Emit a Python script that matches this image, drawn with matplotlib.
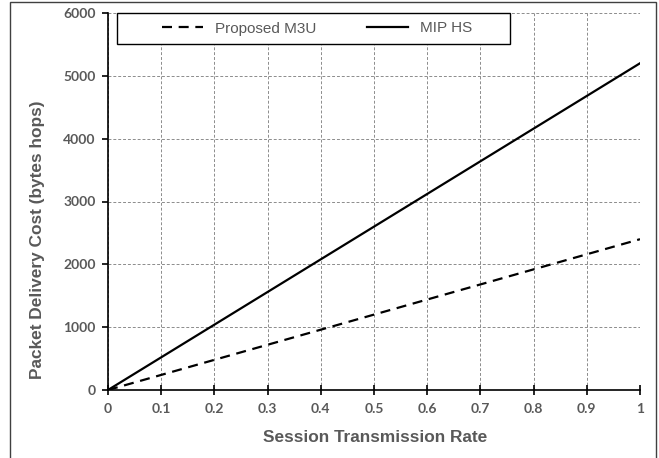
import matplotlib

matplotlib.use("Agg")
import matplotlib.pyplot as plt
from matplotlib.patches import Rectangle

# session transmission rate and delivery cost
rate = [0.0, 0.1, 0.2, 0.3, 0.4, 0.5, 0.6, 0.7, 0.8, 0.9, 1.0]
proposed_m3u = [0, 240, 480, 720, 960, 1200, 1440, 1680, 1920, 2160, 2400]
mip_hs = [0, 520, 1040, 1560, 2080, 2600, 3120, 3640, 4160, 4680, 5200]
xtick_labels = ["0", "0.1", "0.2", "0.3", "0.4", "0.5", "0.6", "0.7", "0.8", "0.9", "1"]
yticks = [0, 1000, 2000, 3000, 4000, 5000, 6000]

GRAY = "#595959"
W, H = 659, 458
AX_L, AX_R, AX_T, AX_B = 108, 640, 13, 390


def px_to_ax(x, y):
    return (x - AX_L) / (AX_R - AX_L), (AX_B - y) / (AX_B - AX_T)


fig = plt.figure(figsize=(W / 100, H / 100), dpi=100)
ax = fig.add_axes([AX_L / W, 1 - AX_B / H, (AX_R - AX_L) / W, (AX_B - AX_T) / H])

ax.plot(rate, proposed_m3u, color="black", linestyle=(0, (4.5, 3)), linewidth=1.6,
        label="Proposed M3U")
ax.plot(rate, mip_hs, color="black", linestyle="-", linewidth=1.6, label="MIP HS")

ax.set_xlim(0, 1)
ax.set_ylim(0, 6000)
ax.set_xticks(rate)
ax.set_xticklabels(xtick_labels)
ax.set_yticks(yticks)

ax.grid(True, linestyle=(0, (3, 2)), color="#8c8c8c", linewidth=0.7)
ax.set_axisbelow(True)
for s in ("top", "right"):
    ax.spines[s].set_visible(False)
for s in ("left", "bottom"):
    ax.spines[s].set_linewidth(1.2)

ax.tick_params(axis="x", direction="inout", length=7, width=1.2, pad=6,
               labelsize=10, labelcolor=GRAY)
ax.tick_params(axis="y", direction="out", length=4, width=1.2, pad=5,
               labelsize=10, labelcolor=GRAY)
for lab in ax.get_xticklabels() + ax.get_yticklabels():
    lab.set_fontfamily("Lato")
    lab.set_fontweight("bold")

ax.set_xlabel("Session Transmission Rate", fontsize=12.4, fontweight="bold",
              color=GRAY, family="Liberation Sans")
ax.set_ylabel("Packet Delivery Cost (bytes hops)", fontsize=12.4, fontweight="bold",
              color=GRAY, family="Liberation Sans")
ax.xaxis.set_label_coords(*px_to_ax(375, 437))
ax.yaxis.set_label_coords(*px_to_ax(37, 240))
ax.xaxis.label.set_va("center")
ax.yaxis.label.set_va("center")

# legend box with entries spread out inside it
x0, y0 = px_to_ax(117, 44)
x1, y1 = px_to_ax(510, 13)
ax.add_patch(Rectangle((x0, y0), x1 - x0, y1 - y0, transform=ax.transAxes,
                       facecolor="white", edgecolor="black", linewidth=1.0,
                       zorder=5, clip_on=False))
leg = ax.legend(loc="center", ncol=2, bbox_to_anchor=px_to_ax(317, 28.5),
                frameon=False, prop={"family": "Liberation Sans", "size": 11},
                handlelength=2.7, handletextpad=0.8, columnspacing=3.3)
leg.set_zorder(6)
for t in leg.get_texts():
    t.set_color(GRAY)

# outer frame around the whole chart
fig.patches.append(Rectangle((10 / W, -0.02), (656 - 10) / W, 1.02 - 2 / H,
                             transform=fig.transFigure, fill=False,
                             edgecolor="#404040", linewidth=1.0))

fig.savefig("out.png", dpi=100)
